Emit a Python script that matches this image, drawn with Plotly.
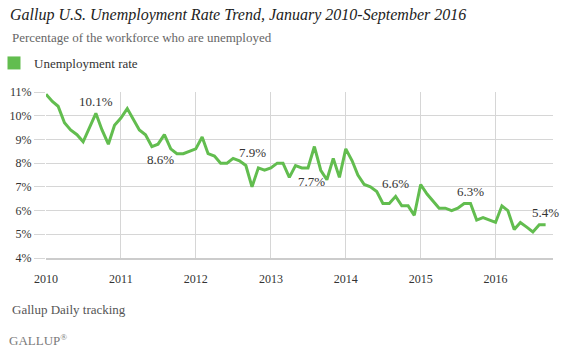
import plotly.graph_objects as go
import pandas as pd

months = pd.date_range("2010-01-01", "2016-09-01", freq="MS").strftime("%Y-%m-%d").tolist()

rate_2010 = [10.9, 10.6, 10.4, 9.7, 9.4, 9.2, 8.9, 9.5, 10.1, 9.4, 8.8, 9.6]
rate_2011 = [9.9, 10.3, 9.9, 9.4, 9.2, 8.7, 8.8, 9.2, 8.6, 8.4, 8.4, 8.5]
rate_2012 = [8.6, 9.1, 8.4, 8.3, 8.0, 8.0, 8.2, 8.1, 7.9, 7.0, 7.8, 7.7]
rate_2013 = [7.8, 8.0, 8.0, 7.4, 7.9, 7.8, 7.8, 8.7, 7.7, 7.3, 8.2, 7.4]
rate_2014 = [8.6, 8.1, 7.5, 7.1, 7.0, 6.8, 6.3, 6.3, 6.6, 6.2, 6.2, 5.8]
rate_2015 = [7.1, 6.7, 6.4, 6.1, 6.1, 6.0, 6.1, 6.3, 6.3, 5.6, 5.7, 5.6]
rate_2016 = [5.5, 6.2, 6.0, 5.2, 5.5, 5.3, 5.1, 5.4, 5.4]
rates = rate_2010 + rate_2011 + rate_2012 + rate_2013 + rate_2014 + rate_2015 + rate_2016

year_ticks = ["2010-01-01", "2011-01-01", "2012-01-01", "2013-01-01",
              "2014-01-01", "2015-01-01", "2016-01-01"]
year_labels = ["2010", "2011", "2012", "2013", "2014", "2015", "2016"]
y_ticks = [4, 5, 6, 7, 8, 9, 10, 11]
y_labels = [f"{v}%" for v in y_ticks]

# labelled September values and label offsets (px)
label_months = ["2010-09-01", "2011-09-01", "2012-09-01", "2013-09-01",
                "2014-09-01", "2015-09-01", "2016-09-01"]
label_dx = [0, -10, 7, -9, 0, 0, 0]
label_dy = [12, -11, 13, -11, 13, 12, 12]

GREEN = "#62BD4F"
FONT = "Liberation Serif, DejaVu Serif, serif"
TXT = "#333333"

W, H = 561, 354
ML, MR, MT, MB = 46, 8, 92, 96
PW, PH = W - ML - MR, H - MT - MB


def px_x(px):
    return (px - ML) / PW


def px_y(py):
    return (H - MB - py) / PH


fig = go.Figure()
fig.add_trace(go.Scatter(x=months, y=rates, mode="lines",
                         line=dict(color=GREEN, width=3), showlegend=False,
                         hoverinfo="skip"))
fig.add_trace(go.Scatter(x=[None], y=[None], mode="markers", name="Unemployment rate",
                         marker=dict(symbol="square", size=13, color=GREEN)))

for m, dx, dy in zip(label_months, label_dx, label_dy):
    v = rates[months.index(m)]
    fig.add_annotation(x=m, y=v, text=f"{v:.1f}%", showarrow=False,
                       xshift=dx, yshift=dy,
                       font=dict(family=FONT, size=13, color=TXT))

fig.add_annotation(xref="paper", yref="paper", x=px_x(10), y=px_y(309),
                   xanchor="left", yanchor="middle", showarrow=False,
                   text="Gallup Daily tracking",
                   font=dict(family=FONT, size=13, color="#555555"))
fig.add_annotation(xref="paper", yref="paper", x=px_x(7), y=px_y(340),
                   xanchor="left", yanchor="middle", showarrow=False,
                   text="GALLUP<sup>®</sup>",
                   font=dict(family=FONT, size=13, color="#7a7a7a"))
fig.add_annotation(xref="paper", yref="paper", x=px_x(10), y=px_y(37),
                   xanchor="left", yanchor="middle", showarrow=False,
                   text="Percentage of the workforce who are unemployed",
                   font=dict(family=FONT, size=13, color="#666666"))

fig.update_layout(
    width=W, height=H,
    margin=dict(l=ML, r=MR, t=MT, b=MB, autoexpand=False),
    paper_bgcolor="white", plot_bgcolor="white",
    title=dict(text="<i>Gallup U.S. Unemployment Rate Trend, January 2010-September 2016</i>",
               x=10/W, xanchor="left", y=1-14/H, yanchor="middle",
               font=dict(family=FONT, size=16, color="#222222")),
    legend=dict(xref="paper", yref="paper", x=px_x(-6), y=px_y(63),
                xanchor="left", yanchor="middle",
                font=dict(family=FONT, size=13, color=TXT),
                bgcolor="rgba(0,0,0,0)"),
    xaxis=dict(type="date", range=["2010-01-01", "2016-10-07"],
               tickmode="array", tickvals=year_ticks, ticktext=year_labels,
               showgrid=True, gridcolor="#d6d6d6", gridwidth=1,
               showline=True, linecolor="#cccccc", linewidth=2,
               ticks="outside", ticklen=9, tickcolor="rgba(0,0,0,0)",
               tickfont=dict(family=FONT, size=12, color=TXT), zeroline=False),
    yaxis=dict(range=[4, 11], tickmode="array", tickvals=y_ticks, ticktext=y_labels,
               showgrid=True, gridcolor="#d6d6d6", gridwidth=1,
               ticks="outside", ticklen=11, tickcolor="#d6d6d6",
               tickfont=dict(family=FONT, size=12, color=TXT), zeroline=False,
               showline=False),
)

fig.write_html("out.html")
